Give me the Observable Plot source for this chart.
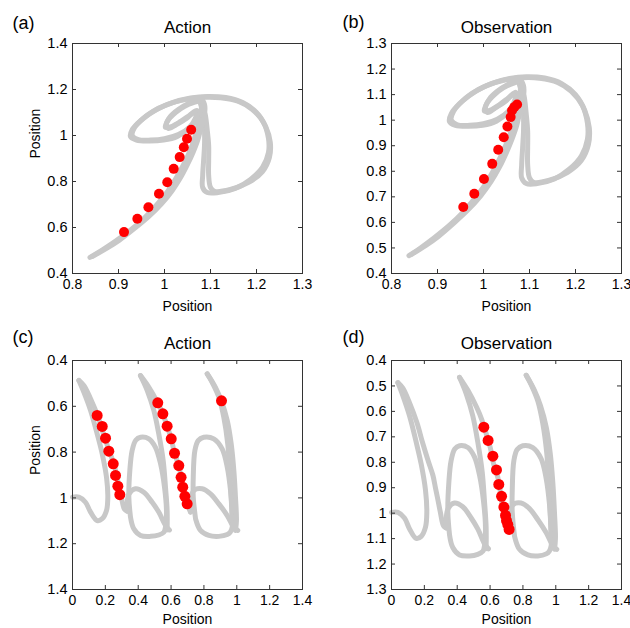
<!DOCTYPE html>
<html>
<head>
<meta charset="utf-8">
<script src="https://cdn.jsdelivr.net/npm/d3@7"></script>
<script src="https://cdn.jsdelivr.net/npm/@observablehq/plot@0.6"></script>
<style>
  html, body { margin: 0; padding: 0; background: #fff; }
  #fig { position: relative; width: 630px; height: 628px; background: #fff; }
  #fig > svg { position: absolute; }
</style>
</head>
<body>
<div id="fig"></div>
<script>
// ---------- tick values ----------
const xTicksTop = [0.8, 0.9, 1, 1.1, 1.2, 1.3];
const yTicksA = [0.4, 0.6, 0.8, 1, 1.2, 1.4];
const yTicksB = [0.4, 0.5, 0.6, 0.7, 0.8, 0.9, 1, 1.1, 1.2, 1.3];
const xTicksBottom = [0, 0.2, 0.4, 0.6, 0.8, 1, 1.2, 1.4];
const yTicksC = [0.4, 0.6, 0.8, 1, 1.2, 1.4];
const yTicksD = [0.4, 0.5, 0.6, 0.7, 0.8, 0.9, 1, 1.1, 1.2, 1.3];

// ---------- gray trajectory, top row (x, y) ----------
const topStroke1 = [[0.838,0.470],[0.866,0.504],[0.893,0.540],[0.925,0.587],[0.955,0.639],[0.982,0.696],[1.005,0.752],[1.022,0.804],[1.037,0.857],[1.050,0.909],[1.060,0.957],[1.070,1.022],[1.077,1.074],[1.080,1.130],[1.076,1.148],
  [1.063,1.143],[1.043,1.126],[1.024,1.100],[1.009,1.070],[1.002,1.035],[1.015,1.039],[1.035,1.061],[1.054,1.087],[1.070,1.109],
  [1.067,1.074],[1.052,1.030],[1.028,0.996],[0.998,0.980],[0.965,0.976],[0.939,0.980],[0.926,0.995],[0.930,1.026],[0.948,1.065],[0.974,1.104],[1.007,1.135],[1.046,1.157],[1.085,1.166],[1.122,1.164],[1.161,1.148],[1.191,1.113],[1.215,1.057],[1.226,0.987],[1.226,0.926],[1.213,0.861],[1.187,0.809],[1.154,0.770],[1.117,0.752],[1.093,0.752],[1.083,0.774],[1.083,0.826],[1.085,0.891],[1.087,0.957],[1.087,1.022],[1.085,1.087],[1.078,1.139]];
const topStroke2 = [[0.843,0.474],[0.874,0.509],[0.902,0.545],[0.935,0.596],[0.966,0.648],[0.994,0.704],[1.017,0.761],[1.035,0.817],[1.050,0.874],[1.062,0.926],[1.072,0.978],[1.080,1.039],[1.087,1.091],[1.087,1.135],[1.080,1.157],
  [1.070,1.152],[1.052,1.139],[1.030,1.113],[1.013,1.083],[1.004,1.048],[1.009,1.030],[1.026,1.048],[1.048,1.074],[1.065,1.100],
  [1.072,1.074],[1.057,1.039],[1.030,1.004],[1.000,0.986],[0.970,0.980],[0.943,0.982],[0.930,1.000],[0.935,1.035],[0.954,1.074],[0.983,1.113],[1.017,1.143],[1.057,1.163],[1.093,1.170],[1.133,1.165],[1.170,1.143],[1.200,1.100],[1.220,1.039],[1.230,0.970],[1.228,0.904],[1.213,0.843],[1.183,0.796],[1.143,0.765],[1.109,0.757],[1.100,0.774],[1.096,0.826],[1.096,0.891],[1.096,0.957],[1.093,1.022],[1.089,1.087],[1.083,1.139]];

// ---------- gray trajectory, bottom row (x, y) ----------
const u1Up = [[0.0,0.997],[0.039,0.997],[0.079,1.019],[0.110,1.062],[0.150,1.099],[0.181,1.091],[0.207,1.055],[0.215,0.997],[0.207,0.910],[0.181,0.808],[0.150,0.720],[0.110,0.618],[0.069,0.538],[0.039,0.487]];
const u1Down = [[0.039,0.487],[0.069,0.509],[0.110,0.567],[0.155,0.645],[0.188,0.720],[0.224,0.796],[0.252,0.851],[0.268,0.902],[0.283,0.949],[0.297,0.995],[0.317,1.050],[0.333,1.058]];
const loop2 = [[0.353,1.084],[0.343,0.997],[0.349,0.880],[0.363,0.793],[0.385,0.748],[0.414,0.735],[0.465,0.742],[0.505,0.779],[0.536,0.851],[0.560,0.953],[0.572,1.055],[0.566,1.128],[0.556,1.150],[0.525,1.162],[0.475,1.168],[0.414,1.164],[0.373,1.135],[0.353,1.084]];
const cross2 = [[0.333,1.058],[0.343,0.985],[0.383,0.960],[0.434,0.975],[0.485,1.019],[0.525,1.062],[0.566,1.120],[0.590,1.140]];
const tall2Up = [[0.576,1.140],[0.576,1.055],[0.566,0.953],[0.552,0.837],[0.525,0.720],[0.495,0.618],[0.455,0.531],[0.414,0.466]];
const tall2Down = [[0.414,0.466],[0.465,0.517],[0.519,0.585],[0.550,0.633],[0.576,0.687],[0.601,0.742],[0.621,0.805],[0.647,0.859],[0.661,0.910],[0.671,0.953],[0.684,0.993],[0.698,1.026],[0.718,1.062]];
const loop3 = [[0.749,1.091],[0.735,0.997],[0.735,0.910],[0.745,0.793],[0.765,0.750],[0.799,0.735],[0.860,0.742],[0.911,0.786],[0.942,0.866],[0.962,0.968],[0.972,1.069],[0.972,1.128],[0.960,1.150],[0.942,1.160],[0.891,1.168],[0.830,1.164],[0.779,1.142],[0.749,1.091]];
const cross3 = [[0.718,1.062],[0.738,0.968],[0.789,0.960],[0.840,0.982],[0.891,1.026],[0.942,1.077],[0.982,1.128],[1.006,1.142]];
const tall3A = [[0.820,0.458],[0.850,0.495],[0.891,0.560],[0.921,0.648],[0.945,0.764],[0.957,0.880],[0.966,0.997],[0.972,1.100]];
const tall3B = [[0.820,0.458],[0.870,0.517],[0.907,0.578],[0.942,0.662],[0.966,0.764],[0.982,0.880],[0.992,0.997],[0.998,1.099],[0.992,1.142]];

// ---------- red points ----------
const redA = [[0.912,0.580],[0.941,0.638],[0.965,0.688],[0.988,0.747],[1.006,0.797],[1.020,0.855],[1.033,0.906],[1.042,0.949],[1.049,0.986],[1.058,1.025]];
const redB = [[0.956,0.660],[0.980,0.712],[1.001,0.770],[1.019,0.829],[1.032,0.884],[1.044,0.933],[1.052,0.975],[1.059,1.012],[1.062,1.038],[1.067,1.051],[1.073,1.061]];
const redC = [[0.150,0.640],[0.181,0.688],[0.201,0.739],[0.221,0.796],[0.248,0.851],[0.262,0.902],[0.276,0.949],[0.288,0.986],
  [0.519,0.585],[0.550,0.633],[0.576,0.687],[0.601,0.742],[0.621,0.805],[0.647,0.859],[0.661,0.910],[0.671,0.953],[0.684,0.993],[0.698,1.026],
  [0.907,0.576]];
const redD = [[0.562,0.662],[0.588,0.714],[0.617,0.776],[0.639,0.830],[0.653,0.887],[0.670,0.934],[0.684,0.976],[0.694,1.009],[0.700,1.029],[0.708,1.045],[0.716,1.064]];

const topStrokes = [topStroke1, topStroke2];
const bottomStrokes = [u1Up, u1Down, loop2, cross2, tall2Up, tall2Down, loop3, cross3, tall3A, tall3B];

const FONT = "'Liberation Sans', Arial, Helvetica, sans-serif";
const fmt = d => String(+(+d).toFixed(1));

function panel(o) {
  const pw = 230;
  const ph = o.h - o.mt - o.mb;
  const strokeData = o.strokes.flatMap((s, i) => s.map(([x, y]) => ({x, y, id: i})));
  const marks = [
    Plot.line(strokeData, {x: "x", y: "y", z: "id", stroke: "#c8c8c8", strokeWidth: 5,
      curve: "catmull-rom", strokeLinecap: "round", strokeLinejoin: "round"}),
    Plot.dot(o.dots, {x: d => d[0], y: d => d[1], r: o.r, fill: "#ff0000", stroke: "none"}),
    Plot.frame({stroke: "#333", strokeWidth: 1}),
    Plot.tickX(o.xTicks, {x: d => d, insetTop: ph - 4, stroke: "#333"}),
    Plot.tickX(o.xTicks, {x: d => d, insetBottom: ph - 4, stroke: "#333"}),
    Plot.tickY(o.yTicks, {y: d => d, insetRight: pw - 4, stroke: "#333"}),
    Plot.tickY(o.yTicks, {y: d => d, insetLeft: pw - 4, stroke: "#333"}),
    Plot.axisX(o.xTicks, {tickSize: 0, tickPadding: 6, tickFormat: fmt, fontSize: 14, label: null}),
    Plot.axisY(o.yTicks, {tickSize: 0, tickPadding: 5, tickFormat: fmt, fontSize: 14.5, label: null}),
    Plot.text([o.title], {text: d => d, frameAnchor: "top", dy: o.titleDy, lineAnchor: "middle", fontSize: 17}),
    Plot.text([o.tag], {text: d => d, frameAnchor: "top-left", dx: o.tagDx, dy: o.tagDy, textAnchor: "start", lineAnchor: "middle", fontSize: 18}),
    Plot.text(["Position"], {text: d => d, frameAnchor: "bottom", dy: o.xlabDy, lineAnchor: "middle", fontSize: 14})
  ];
  if (o.ylabel) {
    marks.push(Plot.text(["Position"], {text: d => d, frameAnchor: "left", dx: -37, rotate: -90, lineAnchor: "middle", fontSize: 14}));
  }
  const svg = Plot.plot({
    width: 315,
    height: o.h,
    marginLeft: o.ml,
    marginRight: 315 - o.ml - pw,
    marginTop: o.mt,
    marginBottom: o.mb,
    style: {fontFamily: FONT, fontSize: "14px", color: "#000", background: "transparent", overflow: "visible"},
    x: {domain: o.xDomain, label: null},
    y: {domain: o.yDomain, reverse: !!o.reverse, label: null},
    marks
  });
  svg.style.left = o.left + "px";
  svg.style.top = o.top + "px";
  document.getElementById("fig").appendChild(svg);
}

panel({left: 0, top: 0, h: 310, ml: 72, mt: 43, mb: 37, xDomain: [0.8, 1.3], yDomain: [0.4, 1.4],
  xTicks: xTicksTop, yTicks: yTicksA, strokes: topStrokes, dots: redA, r: 5,
  title: "Action", tag: "(a)", titleDy: -15.5, tagDx: -60, tagDy: -20.5, xlabDy: 33.5, ylabel: true});
panel({left: 315, top: 0, h: 310, ml: 76, mt: 43, mb: 37, xDomain: [0.8, 1.3], yDomain: [0.4, 1.3],
  xTicks: xTicksTop, yTicks: yTicksB, strokes: topStrokes, dots: redB, r: 5,
  title: "Observation", tag: "(b)", titleDy: -15.5, tagDx: -49, tagDy: -21.5, xlabDy: 33.5, ylabel: false});
panel({left: 0, top: 310, h: 318, ml: 72, mt: 50, mb: 39, xDomain: [0, 1.4], yDomain: [0.4, 1.4], reverse: true,
  xTicks: xTicksBottom, yTicks: yTicksC, strokes: bottomStrokes, dots: redC, r: 5.5,
  title: "Action", tag: "(c)", titleDy: -16.5, tagDx: -60, tagDy: -23.3, xlabDy: 30, ylabel: true});
panel({left: 315, top: 310, h: 318, ml: 76, mt: 50, mb: 39, xDomain: [0, 1.4], yDomain: [0.4, 1.3], reverse: true,
  xTicks: xTicksBottom, yTicks: yTicksD, strokes: bottomStrokes, dots: redD, r: 5.5,
  title: "Observation", tag: "(d)", titleDy: -16.5, tagDx: -49, tagDy: -23.3, xlabDy: 30, ylabel: false});
</script>
</body>
</html>
